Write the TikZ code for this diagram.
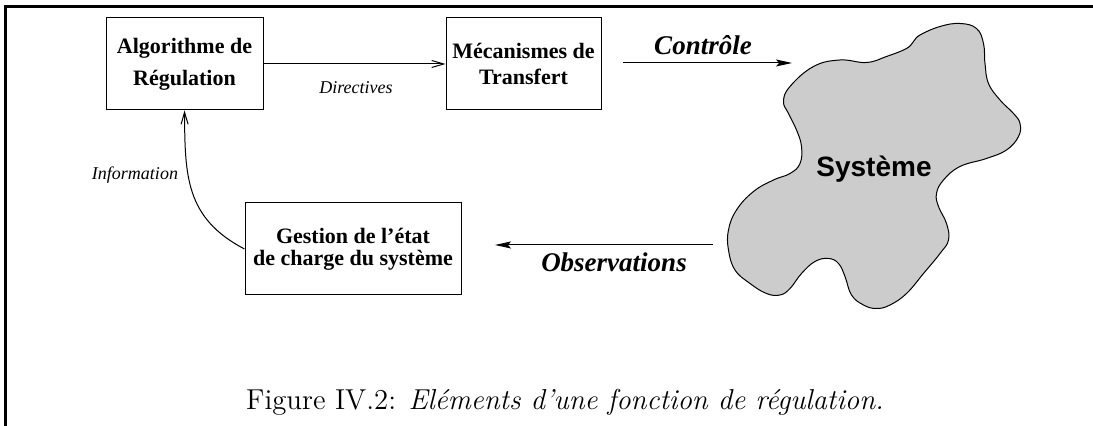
\documentclass[tikz,border=0pt]{standalone}
\usepackage{fontspec}
\newfontfamily\timesfont{Liberation Serif}
\newfontfamily\helvfont{Liberation Sans}
\usetikzlibrary{arrows.meta}

\begin{document}
\begin{tikzpicture}[x=25pt,y=25pt,
	caja/.style={draw, line width=0.5pt, align=center, inner sep=0pt, minimum height=46pt, font=\timesfont\bfseries\fontsize{11}{13}\selectfont},
	flechita/.style={-{Straight Barb[length=6pt,width=3.5pt]}, line width=0.5pt},
	flecha/.style={-{Stealth[length=8pt,width=3.5pt,inset=1.5pt]}, line width=0.5pt},
	etiq/.style={anchor=base, font=\timesfont\itshape\fontsize{9}{11}\selectfont},
	grande/.style={anchor=base, font=\timesfont\bfseries\itshape\fontsize{13.5}{16}\selectfont}]
	\useasboundingbox (0,0) rectangle (21.86,8.52);
	% Marco
		\draw[line width=1.5pt] (21.86,8.38) -- (0.12,8.38) -- (0.12,0);

	% Bloques
		\node (algo) [caja, minimum width=78.5pt] at (3.69,7.24) {Algorithme de\\[3pt]Régulation};
		\node (meca) [caja, minimum width=77.5pt] at (10.47,7.24) {Mécanismes de\\Transfert};
		\node (gest) [caja, minimum width=108pt] at (7.06,3.54) {Gestion de l’état\\[-2pt]de charge du système};

	% Directives e information
		\draw[flechita] (algo.east) -- (meca.west);
		\node (dir) [etiq] at (7.12,6.65) {Directives};
		\draw[flechita] (gest.west) .. controls (3.70,4.16) and (3.70,5.02) .. (algo.south);
		\node (info) [etiq] at (2.70,4.93) {Information};

	% Sistema
		\draw[fill=black!20, line width=0.5pt] plot[smooth cycle, tension=0.7] coordinates {
			(15.80,6.79) (16.27,7.19) (16.80,7.32) (17.33,7.27) (17.73,7.39) (18.13,7.55)
			(18.27,7.69) (18.40,7.82) (18.80,7.99) (19.20,8.05) (19.53,7.95) (19.67,7.65)
			(19.70,7.25) (19.77,6.85) (20.00,6.52) (20.27,6.25) (20.40,6.05) (20.37,5.79)
			(20.13,5.52) (19.73,5.35) (19.20,5.19) (18.87,4.92) (18.73,4.65) (18.77,4.39)
			(18.93,4.05) (18.97,3.72) (18.80,3.45) (18.47,3.05) (18.13,2.65) (17.80,2.42)
			(17.53,2.35) (17.27,2.42) (17.03,2.62) (16.90,2.99) (16.77,3.25) (16.57,3.35)
			(16.30,3.29) (16.03,3.05) (15.80,2.75) (15.60,2.62) (15.33,2.65) (15.00,2.85)
			(14.70,3.12) (14.57,3.52) (14.57,3.92) (14.73,4.32) (15.07,4.69) (15.47,4.92)
			(15.80,5.05) (16.00,5.25) (16.03,5.59) (15.93,5.92) (15.77,6.25) (15.67,6.49)};
		\node (sis) [anchor=base, font=\helvfont\bfseries\fontsize{14}{16}\selectfont] at (17.48,4.99) {Système};

	% Control y observaciones
		\coordinate (ctrlA) at (12.46,7.26);
		\coordinate (ctrlB) at (15.84,7.26);
		\draw[flecha] (ctrlA) -- (ctrlB);
		\node (ctrl) [grande] at (14.06,7.43) {Contrôle};
		\coordinate (obsA) at (14.26,3.62);
		\coordinate (obsB) at (9.90,3.62);
		\draw[flecha] (obsA) -- (obsB);
		\node (obs) [grande] at (12.28,3.09) {Observations};

	% Leyenda
		\node (leyenda) [anchor=base, font=\fontsize{14.4}{17}\selectfont] at (11.3,0.32) {Figure IV.2: \textit{Eléments d’une fonction de régulation.}};
\end{tikzpicture}
\end{document}
